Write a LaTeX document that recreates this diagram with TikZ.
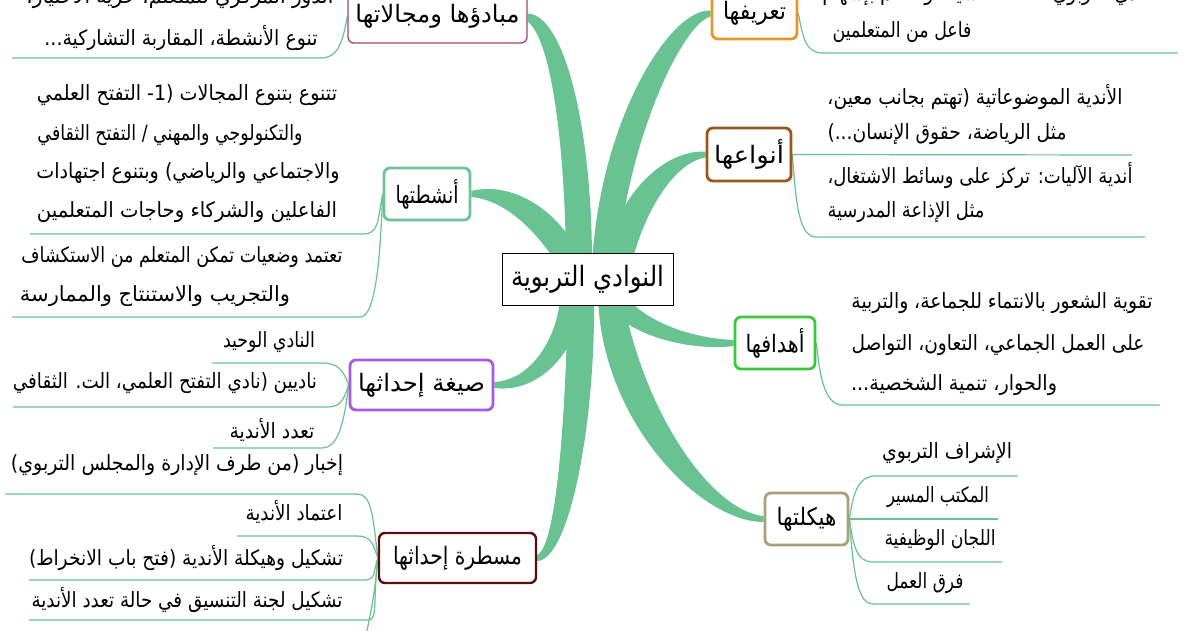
\documentclass[tikz,border=0pt]{standalone}
\usepackage{fontspec}
\usepackage{graphicx}
\usetikzlibrary{calc}
\TeXXeTstate=1
\newfontfamily\arabicfont[Script=Arabic]{DejaVu Sans}
\newcommand\ar[2]{\resizebox{#1pt}{\height}{\arabicfont\beginR #2\endR}}
\definecolor{brgreen}{RGB}{104,194,146}
\definecolor{cMb}{RGB}{160,70,115}
\definecolor{cTa}{RGB}{232,150,40}
\definecolor{cAn}{RGB}{156,88,28}
\definecolor{cNs}{RGB}{108,196,150}
\definecolor{cAh}{RGB}{60,200,60}
\definecolor{cSg}{RGB}{168,90,230}
\definecolor{cHk}{RGB}{168,160,124}
\definecolor{cMs}{RGB}{90,14,14}
\pgfdeclarelayer{back}
\pgfdeclarelayer{bg}
\pgfsetlayers{back,bg,main}
\begin{document}
\begin{tikzpicture}[x=1pt,y=-1pt,
  blade/.style={fill=brgreen},
  sub/.style={draw=brgreen, line width=1.2pt},
  mainbox/.style={draw, fill=white, rounded corners=6pt, line width=2.8pt, inner sep=0pt, font=\fontsize{24}{28}\selectfont},
  centbox/.style={draw=black, fill=white, line width=1pt, inner sep=0pt, minimum width=171pt, minimum height=52pt, font=\fontsize{28}{32}\selectfont},
  txt/.style={inner sep=0pt, font=\fontsize{21}{24}\selectfont, text=black}]
\useasboundingbox (0,0) rectangle (1200,630);
\begin{pgfonlayer}{back}
\fill[white] (0,0) rectangle (1200,630);
\end{pgfonlayer}

% central and main boxes
\node[centbox] (cb) at (587.5,279) {\ar{153}{النوادي التربوية}};
\node[mainbox, draw=cMb, line width=1.3pt, minimum width=179pt, minimum height=53pt] (mb) at (437.5,16.5) {\ar{164}{مبادؤها ومجالاتها}};
\node[mainbox, draw=cTa, minimum width=85pt, minimum height=51pt] (ta) at (754.5,13.5) {\ar{63}{تعريفها}};
\node[mainbox, draw=cAn, minimum width=84pt, minimum height=53pt] (an) at (749,154.5) {\ar{70}{أنواعها}};
\node[mainbox, draw=cNs, minimum width=86pt, minimum height=52pt] (ns) at (427,194) {\ar{63}{أنشطتها}};
\node[mainbox, draw=cAh, minimum width=80pt, minimum height=52pt] (ah) at (775,343) {\ar{59}{أهدافها}};
\node[mainbox, draw=cSg, minimum width=143pt, minimum height=50pt] (sg) at (421.5,385) {\ar{127}{صيغة إحداثها}};
\node[mainbox, draw=cHk, minimum width=83pt, minimum height=52pt] (hk) at (806.5,519) {\ar{60}{هيكلتها}};
\node[mainbox, draw=cMs, line width=2.4pt, minimum width=157pt, minimum height=50pt] (ms) at (457.5,558) {\ar{129}{مسطرة إحداثها}};

% sub texts
\node[txt] (mbA) at (180,-2) {\ar{307}{الدور المركزي للمتعلم، حرية الاختيار،}};
\node[txt] (mbB) at (181,38) {\ar{273}{تنوع الأنشطة، المقاربة التشاركية...}};

\node[txt] (taA) at (991,-5) {\ar{337}{النادي التربوي فضاء للتنشيط والتعلم بإسهام}};
\node[txt] (taB) at (902,32) {\ar{139}{فاعل من المتعلمين}};

\node[txt] (anA) at (975,97) {\ar{295}{الأندية الموضوعاتية (تهتم بجانب معين،}};
\node[txt] (anB) at (947,134) {\ar{239}{مثل الرياضة، حقوق الإنسان...)}};
\node[txt] (anC) at (980,176) {\ar{305}{أندية الآليات: تركز على وسائط الاشتغال،}};
\node[txt] (anD) at (906,212) {\ar{157}{مثل الإذاعة المدرسية}};

\node[txt] (nsA) at (187,95) {\ar{300}{تتنوع بتنوع المجالات (1- التفتح العلمي}};
\node[txt] (nsB) at (170,135) {\ar{265}{والتكنولوجي والمهني / التفتح الثقافي}};
\node[txt] (nsC) at (188,173) {\ar{303}{والاجتماعي والرياضي) وبتنوع اجتهادات}};
\node[txt] (nsD) at (187,212) {\ar{300}{الفاعلين والشركاء وحاجات المتعلمين}};
\node[txt] (nsE) at (182,257) {\ar{321}{تعتمد وضعيات تمكن المتعلم من الاستكشاف}};
\node[txt] (nsF) at (155,296) {\ar{270}{والتجريب والاستنتاج والممارسة}};

\node[txt] (ahA) at (1002,303) {\ar{301}{تقوية الشعور بالانتماء للجماعة، والتربية}};
\node[txt] (ahB) at (998,345) {\ar{293}{على العمل الجماعي، التعاون، التواصل}};
\node[txt] (ahC) at (954,385) {\ar{206}{والحوار، تنمية الشخصية...}};

\node[txt] (sgA) at (269,342) {\ar{92}{النادي الوحيد}};
\node[txt] (sgB) at (165,383) {\ar{304}{ناديين (نادي التفتح العلمي، الت. الثقافي}};
\node[txt] (sgC) at (272,430) {\ar{85}{تعدد الأندية}};

\node[txt] (hkA) at (947,453) {\ar{130}{الإشراف التربوي}};
\node[txt] (hkB) at (938,497) {\ar{102}{المكتب المسير}};
\node[txt] (hkC) at (940,540) {\ar{111}{اللجان الوظيفية}};
\node[txt] (hkD) at (925,583) {\ar{77}{فرق العمل}};

\node[txt] (msA) at (177,465) {\ar{332}{إخبار (من طرف الإدارة والمجلس التربوي)}};
\node[txt] (msB) at (294,512) {\ar{97}{اعتماد الأندية}};
\node[txt] (msC) at (186,558) {\ar{314}{تشكيل وهيكلة الأندية (فتح باب الانخراط)}};
\node[txt] (msD) at (187,600) {\ar{311}{تشكيل لجنة التنسيق في حالة تعدد الأندية}};

% underline end points
\coordinate (mbU) at (321,58); \coordinate (mbE) at (12,58);
\coordinate (taU) at (823,53); \coordinate (taE) at (1178,53);
\coordinate (anE1) at (1132,155);
\coordinate (anU2) at (817,237); \coordinate (anE2) at (1145,237);
\coordinate (nsU1) at (363,234); \coordinate (nsE1) at (30,234);
\coordinate (nsU2) at (360,317); \coordinate (nsE2) at (12,317);
\coordinate (ahU) at (843,405); \coordinate (ahE) at (1160,405);
\coordinate (sgU1) at (323,363); \coordinate (sgE1) at (212,363);
\coordinate (sgU2) at (327,407); \coordinate (sgE2) at (13,407);
\coordinate (sgU3) at (322,448); \coordinate (sgE3) at (213,448);
\coordinate (hkU1) at (875,476); \coordinate (hkE1) at (1018,476);
\coordinate (hkE2) at (998,519);
\coordinate (hkU3) at (873,562); \coordinate (hkE3) at (1002,562);
\coordinate (hkU4) at (873,604); \coordinate (hkE4) at (970,604);
\coordinate (msU1) at (357,494); \coordinate (msE1) at (5,494);
\coordinate (msU2) at (357,536); \coordinate (msE2) at (237,536);
\coordinate (msU3) at (364,580); \coordinate (msE3) at (29,580);
\coordinate (msU4) at (368,620); \coordinate (msE4) at (29,620);
\coordinate (msU5) at (362,660);

\begin{pgfonlayer}{bg}
% thick tapered branches
\fill[blade] ([yshift=3pt]mb.east) .. controls (565,15) and (592,130) .. (592,262) -- (566,262) .. controls (565,150) and (552,40) .. ([yshift=-5pt]mb.east) -- cycle;
\fill[blade] ([yshift=3pt]ta.west) .. controls (670,8) and (600,120) .. (592,264) -- (618,264) .. controls (625,150) and (680,25) .. ([yshift=-3pt]ta.west) -- cycle;
\fill[blade] ([yshift=3pt]an.west) .. controls (660,150) and (615,200) .. (604,262) -- (632,262) .. controls (645,210) and (675,162) .. ([yshift=-3pt]an.west) -- cycle;
\fill[blade] ([yshift=3pt]ns.east) .. controls (515,180) and (565,215) .. (582,262) -- (556,262) .. controls (535,230) and (505,200) .. ([yshift=-3pt]ns.east) -- cycle;
\fill[blade] ([yshift=3pt]sg.east) .. controls (535,380) and (560,330) .. (560,294) -- (584,294) .. controls (580,350) and (540,394) .. ([yshift=-3pt]sg.east) -- cycle;
\fill[blade] ([yshift=3pt]ms.east) .. controls (558,545) and (566,400) .. (568,294) -- (594,294) .. controls (596,420) and (570,560) .. ([yshift=-3pt]ms.east) -- cycle;
\fill[blade] (624,294) .. controls (645,322) and (690,338) .. ([yshift=3pt]ah.west) -- ([yshift=-3pt]ah.west) .. controls (685,352) and (615,332) .. (600,294) -- cycle;
\fill[blade] (622,294) .. controls (645,420) and (715,512) .. ([yshift=3pt]hk.west) -- ([yshift=-3pt]hk.west) .. controls (700,522) and (600,420) .. (598,294) -- cycle;

% thin sub-branches with underlines
\draw[sub] (mb.west) .. controls +(-5,28) and +(16,0) .. (mbU) -- (mbE);
\draw[sub] (ta.east) .. controls +(5,28) and +(-16,0) .. (taU) -- (taE);
\draw[sub] (an.east) -- (anE1);
\draw[sub] (an.east) .. controls +(4,60) and +(-16,0) .. (anU2) -- (anE2);
\draw[sub] (ns.west) .. controls +(-5,27) and +(16,0) .. (nsU1) -- (nsE1);
\draw[sub] (ns.west) .. controls +(-3,90) and +(12,0) .. (nsU2) -- (nsE2);
\draw[sub] (ah.east) .. controls +(4,42) and +(-16,0) .. (ahU) -- (ahE);
\draw[sub] (sg.west) .. controls +(-5,-15) and +(14,0) .. (sgU1) -- (sgE1);
\draw[sub] (sg.west) .. controls +(-5,15) and +(14,0) .. (sgU2) -- (sgE2);
\draw[sub] (sg.west) .. controls +(-5,45) and +(14,0) .. (sgU3) -- (sgE3);
\draw[sub] (hk.east) .. controls +(4,-28) and +(-16,0) .. (hkU1) -- (hkE1);
\draw[sub] (hk.east) -- (hkE2);
\draw[sub] (hk.east) .. controls +(4,28) and +(-16,0) .. (hkU3) -- (hkE3);
\draw[sub] (hk.east) .. controls +(4,60) and +(-14,0) .. (hkU4) -- (hkE4);
\draw[sub] (ms.west) .. controls +(-5,-45) and +(14,0) .. (msU1) -- (msE1);
\draw[sub] (ms.west) .. controls +(-5,-15) and +(14,0) .. (msU2) -- (msE2);
\draw[sub] (ms.west) .. controls +(-5,15) and +(12,0) .. (msU3) -- (msE3);
\draw[sub] (ms.west) .. controls +(-5,45) and +(10,0) .. (msU4) -- (msE4);
\draw[sub] (ms.west) .. controls +(-5,60) and +(3,-30) .. (msU5);
\end{pgfonlayer}
\end{tikzpicture}
\end{document}
